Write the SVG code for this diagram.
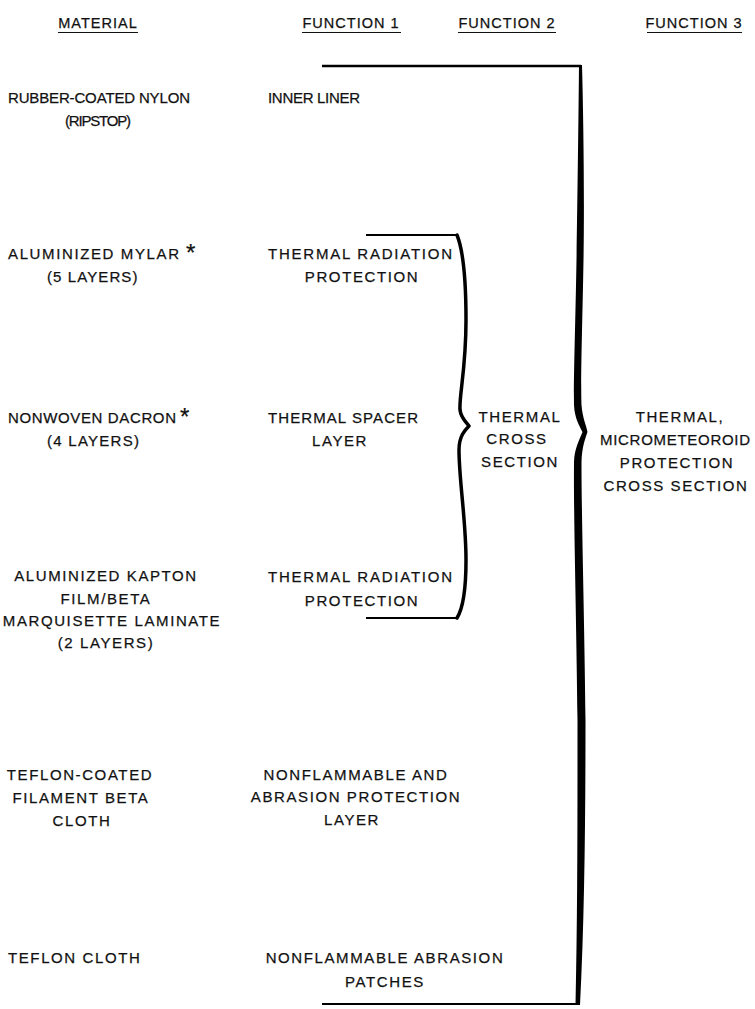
<svg xmlns="http://www.w3.org/2000/svg" width="755" height="1009" viewBox="0 0 755 1009">
<style>
text{font-family:"Liberation Sans",Arial,Helvetica,sans-serif;font-size:15px;fill:#111;stroke:#111;stroke-width:0.25;}
.t{letter-spacing:1.6px;}
.h{letter-spacing:1px;font-size:14.5px;}
.m{text-anchor:middle;}
.star{font-size:24px;}
.ul{stroke:#111;stroke-width:1;}
.ln{stroke:#000;stroke-width:2.5;fill:none;}
.br{stroke:#000;stroke-width:3.5;fill:none;stroke-linejoin:round;stroke-linecap:round;}
.bf{fill:#000;stroke:none;}
</style>
<rect width="755" height="1009" fill="#fff"/>
<g id="headers">
<text class="h m" x="98" y="28">MATERIAL</text>
<line class="ul" x1="58" y1="32.5" x2="138" y2="32.5"/>
<text class="h m" x="351" y="28">FUNCTION 1</text>
<line class="ul" x1="302" y1="32.5" x2="401" y2="32.5"/>
<text class="h m" x="507" y="28">FUNCTION 2</text>
<line class="ul" x1="458" y1="32.5" x2="556" y2="32.5"/>
<text class="h m" x="694" y="28">FUNCTION 3</text>
<line class="ul" x1="647" y1="32.5" x2="742" y2="32.5"/>
</g>
<g id="mat-nylon">
<text class="m" x="99" y="103" textLength="182" lengthAdjust="spacing">RUBBER-COATED NYLON</text>
<text class="m" x="98" y="126" textLength="66" lengthAdjust="spacing">(RIPSTOP)</text>
</g>
<g id="mat-mylar">
<text x="8" y="259" textLength="171" lengthAdjust="spacing">ALUMINIZED MYLAR</text>
<text class="star" x="186" y="261">*</text>
<text class="t" x="47" y="282" textLength="92" lengthAdjust="spacing">(5 LAYERS)</text>
</g>
<g id="mat-dacron">
<text x="8" y="423" textLength="168" lengthAdjust="spacing">NONWOVEN DACRON</text>
<text class="star" x="180" y="425">*</text>
<text x="47" y="446" textLength="92" lengthAdjust="spacing">(4 LAYERS)</text>
</g>
<g id="mat-kapton">
<text class="t m" x="106" y="581">ALUMINIZED KAPTON</text>
<text class="t m" x="106" y="604">FILM/BETA</text>
<text class="t m" x="112" y="626">MARQUISETTE LAMINATE</text>
<text class="t m" x="106" y="648">(2 LAYERS)</text>
</g>
<g id="mat-beta">
<text class="t m" x="80" y="780">TEFLON-COATED</text>
<text class="t m" x="81" y="803">FILAMENT BETA</text>
<text class="t m" x="82" y="826">CLOTH</text>
</g>
<g id="mat-teflon">
<text class="t" x="8" y="963">TEFLON CLOTH</text>
</g>
<g id="f1-liner">
<text x="268" y="103" textLength="92" lengthAdjust="spacing">INNER LINER</text>
</g>
<g id="f1-rad1">
<text x="268" y="259" textLength="184" lengthAdjust="spacing">THERMAL RADIATION</text>
<text class="t m" x="362" y="282">PROTECTION</text>
</g>
<g id="f1-spacer">
<text x="268" y="423" textLength="150" lengthAdjust="spacing">THERMAL SPACER</text>
<text class="t m" x="340" y="446">LAYER</text>
</g>
<g id="f1-rad2">
<text x="268" y="582" textLength="184" lengthAdjust="spacing">THERMAL RADIATION</text>
<text class="t m" x="362" y="606">PROTECTION</text>
</g>
<g id="f1-abrasion">
<text class="t m" x="356" y="780">NONFLAMMABLE AND</text>
<text class="t m" x="356" y="802">ABRASION PROTECTION</text>
<text class="t m" x="352" y="825">LAYER</text>
</g>
<g id="f1-patches">
<text class="t m" x="385" y="963">NONFLAMMABLE ABRASION</text>
<text class="t m" x="385" y="987">PATCHES</text>
</g>
<g id="f2-thermal">
<text class="t m" x="520" y="422">THERMAL</text>
<text class="t m" x="517" y="444">CROSS</text>
<text class="t m" x="520" y="467">SECTION</text>
</g>
<g id="f3-thermal-micro">
<text class="t m" x="680" y="422">THERMAL,</text>
<text class="m" x="675" y="445" textLength="150" lengthAdjust="spacing">MICROMETEOROID</text>
<text class="t m" x="677" y="468">PROTECTION</text>
<text class="t m" x="676" y="491">CROSS SECTION</text>
</g>
<g id="connectors">
<line class="ln" x1="322" y1="66" x2="581" y2="66"/>
<line class="ln" x1="322" y1="1004" x2="578" y2="1004" style="stroke-width:2"/>
<path class="bf" d="M579,65 L582,65 C583.5,120 584.5,200 583.5,260 C582.5,320 580.5,380 581.5,405 C582.5,418 586.5,426 587.5,432 C585.5,438 582,446 581.5,462 C581.5,520 584.5,620 585.5,720 C585.5,820 584.5,920 580,1005 L575.5,1005 C577.5,920 577.5,820 577.5,720 C576.5,620 573.5,520 574,462 C574.5,448 579.5,440 582.5,432 C579.5,426 574.5,418 574,405 C573.5,380 575.5,320 576.5,260 C577.5,200 578.5,120 579,65 Z"/>
<line class="ln" x1="366" y1="235" x2="457" y2="235" style="stroke-width:2"/>
<line class="ln" x1="366" y1="618" x2="457" y2="618" style="stroke-width:2"/>
<path class="br" d="M457,235 C463,250 466,280 466,320 C466,370 459,395 460,410 C461,418 466,422 469,426 C465,430 459,436 459,450 C459,480 466,520 466,560 C466,590 462,610 457,618"/>
</g>
</svg>
